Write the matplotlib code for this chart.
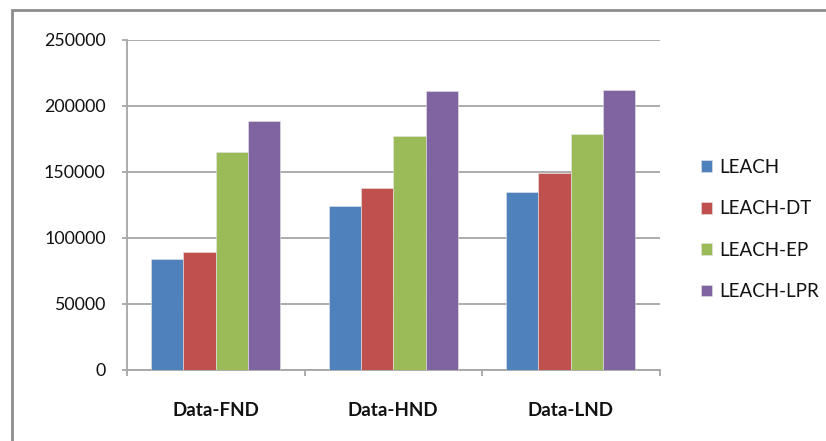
import matplotlib
matplotlib.use("Agg")
import matplotlib.pyplot as plt
import numpy as np
from matplotlib.patches import Rectangle

categories = ["Data-FND", "Data-HND", "Data-LND"]
series_names = ["LEACH", "LEACH-DT", "LEACH-EP", "LEACH-LPR"]
leach = [84000, 124500, 134600]
leach_dt = [89600, 137600, 149500]
leach_ep = [164900, 177300, 178500]
leach_lpr = [188900, 211400, 212400]
yticks = [0, 50000, 100000, 150000, 200000, 250000]

series = [leach, leach_dt, leach_ep, leach_lpr]
colors = ["#4F81BD", "#C0504D", "#9BBB59", "#8064A2"]

plt.rcParams['font.family'] = ['Lato', 'DejaVu Sans']

W, H = 826, 441
fig = plt.figure(figsize=(W / 100, H / 100), dpi=100)
fig.patch.set_facecolor("white")

# outer chart frame (left and top visible)
fig.add_artist(Rectangle((11.5 / W, -0.05), 1.2, 1 - 10 / H + 0.05,
                         transform=fig.transFigure, fill=False,
                         edgecolor="#8c8c8c", linewidth=2.0))

ax = fig.add_axes([127 / W, 1 - 370 / H, (659.5 - 127) / W, (370 - 40) / H])

n = len(series)
bw = 1 / 5.5
x = np.arange(len(categories)) + 0.5
for i, (vals, c, name) in enumerate(zip(series, colors, series_names)):
    offs = (i - (n - 1) / 2) * bw
    ax.bar(x + offs, vals, width=bw, color=c, edgecolor="#e6e6e6",
           linewidth=0.4, label=name, zorder=3)

ax.set_xlim(0, len(categories))
ax.set_ylim(0, 250000)
ax.set_yticks(yticks)
ax.set_yticklabels([str(v) for v in yticks])
ax.yaxis.grid(True, color="#a6a6a6", linewidth=1.3, zorder=0)
ax.set_axisbelow(True)

for s in ["top", "right"]:
    ax.spines[s].set_visible(False)
ax.spines["left"].set_color("#a6a6a6")
ax.spines["bottom"].set_color("#a6a6a6")
ax.spines["left"].set_linewidth(1.3)
ax.spines["bottom"].set_linewidth(1.3)

ax.set_xticks(np.arange(len(categories) + 1))
ax.set_xticklabels([])
ax.set_xticks(x, minor=True)
ax.set_xticklabels(categories, minor=True, fontsize=13.5, fontweight="bold",
                   color="#111111")
ax.tick_params(axis="x", which="major", length=4.5, color="#a6a6a6", width=1.3, direction="out")
ax.tick_params(axis="x", which="minor", length=0, pad=23)
ax.tick_params(axis="y", length=3.8, color="#a6a6a6", width=1.3, direction="out",
               labelsize=12.8, pad=11.5, labelcolor="#111111")

handles, labels = ax.get_legend_handles_labels()
leg = fig.legend(handles, labels, loc="center left",
                 bbox_to_anchor=(701 / W, 1 - 229.5 / H),
                 frameon=False, fontsize=13.5, handlelength=0.6,
                 handleheight=0.6, handletextpad=0.35, labelspacing=1.3,
                 borderpad=0, borderaxespad=0)
for t in leg.get_texts():
    t.set_color("#111111")

fig.savefig("out.png", dpi=100, facecolor="white")
